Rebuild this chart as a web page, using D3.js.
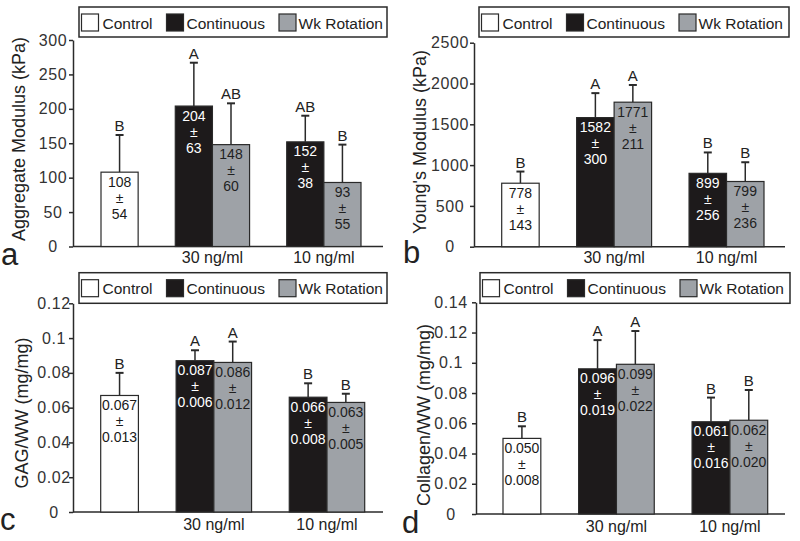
<!DOCTYPE html>
<html>
<head>
<meta charset="utf-8">
<script src="https://cdn.jsdelivr.net/npm/d3@7"></script>
<style>
  body { margin: 0; background: #fff; }
  svg { display: block; font-family: "Liberation Sans", Arial, Helvetica, sans-serif; }
</style>
</head>
<body>
<svg id="chart" width="800" height="541"></svg>
<script>
// ---------------- DATA ----------------
const seriesNames = ["Control", "Continuous", "Wk Rotation"];
const groupLabels = ["30 ng/ml", "10 ng/ml"];
const barKeys = ["ctrl", "c30", "w30", "c10", "w10"];
const barSeries = ["Control", "Continuous", "Wk Rotation", "Continuous", "Wk Rotation"];
const slotDomain = ["ctrl", "gap1", "c30", "w30", "gap2", "c10", "w10"];

const aggMeans = [108, 204, 148, 152, 93];
const aggSD = [54, 63, 60, 38, 55];
const aggLetters = ["B", "A", "AB", "AB", "B"];
const aggTicks = [0, 50, 100, 150, 200, 250, 300];
const aggTickLabels = ["0", "50", "100", "150", "200", "250", "300"];

const youngMeans = [778, 1582, 1771, 899, 799];
const youngSD = [143, 300, 211, 256, 236];
const youngLetters = ["B", "A", "A", "B", "B"];
const youngTicks = [0, 500, 1000, 1500, 2000, 2500];
const youngTickLabels = ["0", "500", "1000", "1500", "2000", "2500"];

const gagMeans = [0.067, 0.087, 0.086, 0.066, 0.063];
const gagSD = [0.013, 0.006, 0.012, 0.008, 0.005];
const gagLetters = ["B", "A", "A", "B", "B"];
const gagTicks = [0, 0.02, 0.04, 0.06, 0.08, 0.1, 0.12];
const gagTickLabels = ["0", "0.02", "0.04", "0.06", "0.08", "0.1", "0.12"];

const colMeans = [0.050, 0.096, 0.099, 0.061, 0.062];
const colSD = [0.008, 0.019, 0.022, 0.016, 0.020];
const colLetters = ["B", "A", "A", "B", "B"];
const colTicks = [0, 0.02, 0.04, 0.06, 0.08, 0.1, 0.12, 0.14];
const colTickLabels = ["0", "0.02", "0.04", "0.06", "0.08", "0.1", "0.12", "0.14"];

// ---------------- STYLE ----------------
const fillColor = { "Control": "#ffffff", "Continuous": "#1d1a1b", "Wk Rotation": "#9ea2a7" };
const textColor = { "Control": "#1a1a1a", "Continuous": "#ffffff", "Wk Rotation": "#1f1f1f" };
const ink = "#2a2a2a";

const panels = [
  { letter: "a", title: "Aggregate Modulus (kPa)", means: aggMeans, sd: aggSD, letters: aggLetters,
    ticks: aggTicks, tickLabels: aggTickLabels, max: 300, fmt: d3.format("d"),
    axisX: 73, yTop: 40, yBot: 246.5, band: [101, 361], axisEnd: 383,
    legend: [79, 7, 308, 30], tickCX: 53, titleX: 25, titleY: 139, letterXY: [1, 265], catY: 263 },
  { letter: "b", title: "Young's Modulus (kPa)", means: youngMeans, sd: youngSD, letters: youngLetters,
    ticks: youngTicks, tickLabels: youngTickLabels, max: 2500, fmt: d3.format("d"),
    axisX: 474, yTop: 42.7, yBot: 246.7, band: [501.7, 764], axisEnd: 785,
    legend: [479, 7, 310, 30], tickCX: 450, titleX: 426, titleY: 142, letterXY: [403, 263], catY: 263 },
  { letter: "c", title: "GAG/WW (mg/mg)", means: gagMeans, sd: gagSD, letters: gagLetters,
    ticks: gagTicks, tickLabels: gagTickLabels, max: 0.12, fmt: d3.format(".3f"),
    axisX: 73, yTop: 303.3, yBot: 512, band: [100.7, 364.7], axisEnd: 383,
    legend: [79, 272.7, 308, 30.6], tickCX: 54, titleX: 28, titleY: 413, letterXY: [0, 530], catY: 530 },
  { letter: "d", title: "Collagen/WW (mg/mg)", means: colMeans, sd: colSD, letters: colLetters,
    ticks: colTicks, tickLabels: colTickLabels, max: 0.14, fmt: d3.format(".3f"),
    axisX: 476, yTop: 302.3, yBot: 514, band: [503, 767.7], axisEnd: 785,
    legend: [480, 272.7, 310, 30.6], tickCX: 451, titleX: 429.6, titleY: 415, letterXY: [402, 533], catY: 532 }
];

const svg = d3.select("#chart");

panels.forEach(p => {
  const g = svg.append("g");
  const y = d3.scaleLinear().domain([0, p.max]).range([p.yBot, p.yTop]);
  const x = d3.scaleBand().domain(slotDomain).range(p.band).padding(0);
  const bw = x.bandwidth();

  // y axis
  const yAxis = d3.axisLeft(y).tickValues(p.ticks)
    .tickFormat((d, i) => p.tickLabels[i]).tickSize(4).tickSizeOuter(0);
  const ag = g.append("g").attr("transform", `translate(${p.axisX},0)`).call(yAxis);
  ag.select(".domain").attr("stroke", ink).attr("stroke-width", 1.5);
  ag.selectAll(".tick line").attr("stroke", ink).attr("stroke-width", 1.5);
  ag.selectAll(".tick text")
    .attr("x", p.tickCX - p.axisX)
    .attr("text-anchor", "middle")
    .attr("font-size", 16)
    .attr("letter-spacing", 0.6)
    .attr("fill", "#333")
    .attr("font-family", "'Liberation Sans', Arial, sans-serif");

  // x axis baseline
  g.append("line").attr("x1", p.axisX).attr("x2", p.axisEnd)
    .attr("y1", y(0)).attr("y2", y(0)).attr("stroke", ink).attr("stroke-width", 1.5);

  // bars
  const data = barKeys.map((k, i) => ({ key: k, series: barSeries[i], mean: p.means[i], sd: p.sd[i], letter: p.letters[i] }));

  // error bars (drawn first, bars over them)
  const eb = g.append("g");
  data.forEach(d => {
    const cx = x(d.key) + bw / 2;
    eb.append("line").attr("x1", cx).attr("x2", cx)
      .attr("y1", y(d.mean)).attr("y2", y(d.mean + d.sd))
      .attr("stroke", ink).attr("stroke-width", 1.5);
    eb.append("line").attr("x1", cx - 4).attr("x2", cx + 4)
      .attr("y1", y(d.mean + d.sd)).attr("y2", y(d.mean + d.sd))
      .attr("stroke", ink).attr("stroke-width", 2);
    eb.append("text").attr("x", cx).attr("y", y(d.mean + d.sd) - 4)
      .attr("text-anchor", "middle").attr("font-size", 15).attr("fill", "#222")
      .text(d.letter);
  });

  g.append("g").selectAll("rect").data(data).join("rect")
    .attr("x", d => x(d.key))
    .attr("y", d => y(d.mean))
    .attr("width", bw)
    .attr("height", d => y(0) - y(d.mean))
    .attr("fill", d => fillColor[d.series])
    .attr("stroke", ink).attr("stroke-width", 1.2);

  // value labels
  data.forEach(d => {
    const cx = x(d.key) + bw / 2;
    const top = y(d.mean);
    const lines = [p.fmt(d.mean), "±", p.fmt(d.sd)];
    lines.forEach((t, j) => {
      g.append("text").attr("x", cx).attr("y", top + 14.5 + j * 16)
        .attr("text-anchor", "middle").attr("font-size", 14)
        .attr("fill", textColor[d.series]).text(t);
    });
  });

  // category labels
  [["c30", "w30"], ["c10", "w10"]].forEach((pair, i) => {
    const cx = (x(pair[0]) + x(pair[1]) + bw) / 2;
    g.append("text").attr("x", cx).attr("y", p.catY).attr("text-anchor", "middle")
      .attr("font-size", 16).attr("fill", "#222").text(groupLabels[i]);
  });

  // y title
  g.append("text").attr("transform", `translate(${p.titleX},${p.titleY}) rotate(-90)`)
    .attr("text-anchor", "middle").attr("font-size", 18).attr("fill", "#222").text(p.title);

  // panel letter
  g.append("text").attr("x", p.letterXY[0]).attr("y", p.letterXY[1])
    .attr("font-size", 31).attr("fill", "#222").text(p.letter);

  // legend
  const [lx, ly, lw, lh] = p.legend;
  g.append("rect").attr("x", lx).attr("y", ly).attr("width", lw).attr("height", lh)
    .attr("fill", "#fff").attr("stroke", ink).attr("stroke-width", 1.5);
  const swOff = [2.5, 87.5, 200];
  const txOff = [23.5, 107.5, 219.5];
  seriesNames.forEach((s, i) => {
    g.append("rect").attr("x", lx + swOff[i]).attr("y", ly + 7).attr("width", 17).attr("height", 17)
      .attr("fill", fillColor[s]).attr("stroke", ink).attr("stroke-width", 1.2);
    g.append("text").attr("x", lx + txOff[i]).attr("y", ly + 21.5)
      .attr("font-size", 15.5).attr("fill", "#222").text(s);
  });
});
</script>
</body>
</html>
